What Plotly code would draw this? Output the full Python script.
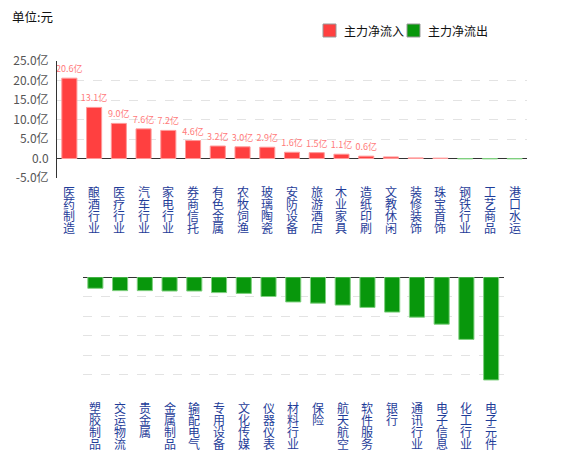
import plotly.graph_objects as go

# 主力净流入板块 (亿元)
inflow_names = ['医药制造', '酿酒行业', '医疗行业', '汽车行业', '家电行业', '券商信托',
                '有色金属', '农牧饲渔', '玻璃陶瓷', '安防设备', '旅游酒店', '木业家具',
                '造纸印刷', '文教休闲', '装修装饰', '珠宝首饰', '钢铁行业', '工艺商品', '港口水运']
inflow_vals = [20.6, 13.1, 9.0, 7.6, 7.2, 4.6, 3.2, 3.0, 2.9, 1.6, 1.5, 1.1, 0.6,
               0.4, 0.15, 0.1, -0.1, -0.1, -0.1]

# 主力净流出板块 (亿元)
outflow_names = ['塑胶制品', '交运物流', '贵金属', '金属制品', '输配电气', '专用设备',
                 '文化传媒', '仪器仪表', '材料行业', '保险', '航天航空', '软件服务',
                 '银行', '通讯行业', '电子信息', '化工行业', '电子元件']
outflow_vals = [-2.9, -3.5, -3.5, -3.6, -3.6, -4.0, -4.2, -5.0, -6.4, -6.7, -7.2, -7.8,
                -9.0, -10.3, -12.1, -16.0, -26.4]

y_ticks = [-5, 0, 5, 10, 15, 20, 25]
y_ticktext = ['-5.0亿', '0.0', '5.0亿', '10.0亿', '15.0亿', '20.0亿', '25.0亿']

legend_names = ['主力净流入', '主力净流出']

RED = '#ff4040'
GREEN = '#08970c'
FONT = 'Noto Sans CJK SC'
LABEL_BLUE = '#1f3d99'
W, H = 570, 475

fig = go.Figure()

pos_vals = [v if v > 0 else None for v in inflow_vals]
neg_vals = [v if v < 0 else None for v in inflow_vals]
labels = [f'{v:.1f}亿' if v >= 0.5 else '' for v in inflow_vals]

fig.add_trace(go.Bar(
    x=inflow_names, y=pos_vals, name=legend_names[0],
    marker=dict(color=RED, line=dict(color='#ff9a9a', width=1)),
    text=labels, textposition='outside', cliponaxis=False, constraintext='none',
    textfont=dict(size=9, color='#ff7a7a', family=FONT),
    xaxis='x', yaxis='y'
))
fig.add_trace(go.Bar(
    x=inflow_names, y=neg_vals, name=legend_names[1],
    marker=dict(color=GREEN, line=dict(color='#7fd07f', width=1)),
    xaxis='x', yaxis='y'
))
fig.add_trace(go.Bar(
    x=outflow_names, y=outflow_vals, name=legend_names[1],
    marker=dict(color=GREEN, line=dict(color='#7fd07f', width=1)),
    xaxis='x2', yaxis='y2'
))

# vertical category labels, one character per row
annotations = []
for names, xref, yref in [(inflow_names, 'x', 'y domain'), (outflow_names, 'x2', 'y2 domain')]:
    for name in names:
        for k, ch in enumerate(name):
            annotations.append(dict(
                x=name, xref=xref, y=0, yref=yref, yanchor='middle',
                yshift=-13 - k * 12.3, text=ch, showarrow=False,
                font=dict(size=12, color=LABEL_BLUE, family=FONT)
            ))

annotations.append(dict(
    x=10 / W, xref='paper', y=1 - 17 / H, yref='paper',
    xanchor='left', yanchor='middle', text='单位:元', showarrow=False,
    font=dict(size=12.5, color='#111', family=FONT)
))

# hand-made legend: swatch + label
shapes = []
for left, name, color in [(323, legend_names[0], RED), (407, legend_names[1], GREEN)]:
    shapes.append(dict(type='rect', xref='paper', yref='paper',
                       x0=left / W, x1=(left + 13) / W,
                       y0=1 - 37 / H, y1=1 - 24 / H,
                       fillcolor=color, line=dict(color='#999', width=1)))
    annotations.append(dict(
        x=(left + 19) / W, xref='paper', y=1 - 30.5 / H, yref='paper',
        xanchor='left', yanchor='middle', text=name, showarrow=False,
        font=dict(size=12, color='#111', family=FONT)
    ))

grid = dict(showgrid=True, gridcolor='#e3e3e3', griddash='dash', gridwidth=1)

fig.update_layout(
    width=W, height=H,
    margin=dict(l=0, r=0, t=0, b=0, autoexpand=False),
    template='none',
    plot_bgcolor='white', paper_bgcolor='white',
    barmode='overlay', bargap=0.39,
    font=dict(family=FONT, size=12, color='#555'),
    showlegend=False,
    xaxis=dict(domain=[57 / W, 527 / W], anchor='y', showticklabels=False,
               showline=False, showgrid=False, automargin=False, ticks=''),
    yaxis=dict(domain=[1 - 178 / H, 1 - 61 / H], anchor='x', range=[-5, 25],
               tickvals=y_ticks, ticktext=y_ticktext, showline=True,
               linecolor='#333', linewidth=1, zeroline=True, zerolinecolor='#333',
               zerolinewidth=1, automargin=False, ticks='', ticklabelstandoff=5,
               tickfont=dict(size=12, color='#555'), **grid),
    xaxis2=dict(domain=[83 / W, 503.5 / W], anchor='y2', showticklabels=False,
                showline=False, showgrid=False, automargin=False, ticks=''),
    yaxis2=dict(domain=[1 - 394 / H, 1 - 277 / H], anchor='x2', range=[-30, 0],
                dtick=5, showticklabels=False, showline=False, zeroline=True,
                zerolinecolor='#333', zerolinewidth=1, automargin=False, ticks='',
                **grid),
    shapes=shapes,
    annotations=annotations,
)

fig.write_html('out.html', config={'displayModeBar': False},
               post_script="document.body.style.margin='0';")
